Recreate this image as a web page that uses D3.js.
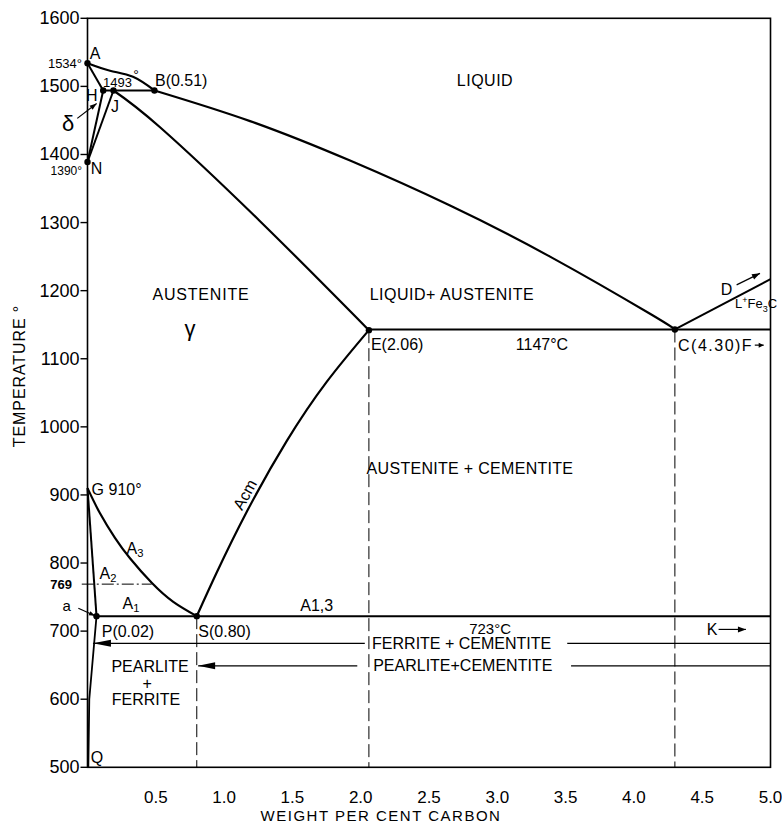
<!DOCTYPE html>
<html><head><meta charset="utf-8">
<script src="https://cdn.jsdelivr.net/npm/d3@7"></script>
<style>
body{margin:0;background:#fff}
text{font-family:"Liberation Sans",Arial,sans-serif;fill:#000}
</style>
</head><body><script>
// ---- data (carbon wt% , temperature °C) ----
const xTicks=[0.5,1.0,1.5,2.0,2.5,3.0,3.5,4.0,4.5,5.0];
const xTickLabels=["0.5","1.0","1.5","2.0","2.5","3.0","3.5","4.0","4.5","5.0"];
const yTicks=[500,600,700,800,900,1000,1100,1200,1300,1400,1500,1600];
const yTickLabels=["500","600","700","800","900","1000","1100","1200","1300","1400","1500","1600"];

const liquidusAB=[[0,1534],[0.165,1523],[0.333,1514],[0.49,1494]];
const peritecticHB=[[0.115,1494],[0.49,1494]];
const deltaAH=[[0,1534],[0.115,1494]];
const deltaHN=[[0.115,1494],[0,1389]];
const gammaJN=[[0.19,1494],[0,1389]];
const solidusJE=[[0.19,1494],[0.531,1440],[1.263,1302],[2.06,1142]];
const liquidusBC=[[0.49,1494],[1.19,1449],[1.922,1391],[2.654,1325],[3.386,1250],[4.118,1166],[4.30,1143]];
const liquidusCD=[[4.30,1143],[5.0,1217]];
const eutecticEF=[[2.06,1143],[5.0,1143]];
const acmSE=[[0.80,722],[0.946,786],[1.165,875],[1.458,979],[1.751,1066],[2.06,1142]];
const a3GS=[[0,910],[0.0915,873],[0.201,837],[0.311,807],[0.47,771],[0.628,743],[0.80,722]];
const solvusGP=[[0,910],[0.066,722]];
const solvusPQ=[[0.066,722],[0.013,600],[0.006,500]];
const eutectoidPK=[[0.066,722],[5.0,722]];
const curie769=[[-0.042,769],[0.47,769]];
const dashedS=[[0.80,722],[0.80,500]];
const dashedE=[[2.06,1142],[2.06,500]];
const dashedC=[[4.30,1143],[4.30,500]];
const ferriteRow=[[[0.04,682],[2.03,682]],[[3.512,682],[5.0,682]]];
const pearliteRow=[[[0.81,649],[1.975,649]],[[3.54,649],[5.0,649]]];
const pointsDots=[[0,1534],[0.115,1494],[0.19,1494],[0.49,1494],[0,1389],[2.06,1142],[4.30,1143],[0.80,722],[0.066,722]];

// ---- scales ----
const W=782,H=825;
const x=d3.scaleLinear().domain([0,5]).range([87.5,770.5]);
const y=d3.scaleLinear().domain([500,1600]).range([767.3,18.3]);

const svg=d3.select("body").append("svg").attr("width",W).attr("height",H);
svg.append("rect").attr("width",W).attr("height",H).attr("fill","#fff");

const lin=d3.line().x(d=>x(d[0])).y(d=>y(d[1]));
const crv=d3.line().x(d=>x(d[0])).y(d=>y(d[1])).curve(d3.curveNatural);

// frame
svg.append("rect").attr("x",x(0)).attr("y",y(1600)).attr("width",x(5)-x(0)).attr("height",y(500)-y(1600))
  .attr("fill","none").attr("stroke","#000").attr("stroke-width",1.6);

// y ticks
const gy=svg.append("g");
yTicks.forEach((t,i)=>{
  gy.append("line").attr("x1",x(0)-7).attr("x2",x(0)).attr("y1",y(t)).attr("y2",y(t)).attr("stroke","#000").attr("stroke-width",1.4);
  gy.append("text").attr("x",x(0)-8).attr("y",y(t)).attr("text-anchor","end").attr("dominant-baseline","central")
    .attr("font-size",18).text(yTickLabels[i]);
});
// x tick labels
xTicks.forEach((t,i)=>{
  svg.append("text").attr("x",x(t)).attr("y",797).attr("text-anchor","middle").attr("dominant-baseline","central")
    .attr("font-size",17).text(xTickLabels[i]);
});
svg.append("text").attr("x",381).attr("y",815).attr("text-anchor","middle").attr("dominant-baseline","central")
  .attr("font-size",15).attr("letter-spacing",1.5).text("WEIGHT PER CENT CARBON");
svg.append("text").attr("transform","translate(19,376) rotate(-90)").attr("text-anchor","middle").attr("dominant-baseline","central")
  .attr("font-size",16).attr("letter-spacing",0.9).text("TEMPERATURE  °");

// thin / dashed lines
[dashedS,dashedE,dashedC].forEach(d=>svg.append("path").attr("d",lin(d)).attr("fill","none").attr("stroke","#000").attr("stroke-width",1).attr("stroke-dasharray","13,5"));
svg.append("path").attr("d",lin(curie769)).attr("fill","none").attr("stroke","#000").attr("stroke-width",1).attr("stroke-dasharray","12,3,2,3");
ferriteRow.concat(pearliteRow).forEach(d=>svg.append("path").attr("d",lin(d)).attr("fill","none").attr("stroke","#000").attr("stroke-width",1.1));

// main boundaries
[liquidusAB,liquidusBC,solidusJE,acmSE,a3GS].forEach(d=>svg.append("path").attr("d",crv(d)).attr("fill","none").attr("stroke","#000").attr("stroke-width",2.2));
[peritecticHB,deltaAH,deltaHN,gammaJN,liquidusCD,eutecticEF,solvusGP,eutectoidPK].forEach(d=>svg.append("path").attr("d",lin(d)).attr("fill","none").attr("stroke","#000").attr("stroke-width",2));
svg.append("path").attr("d",lin(solvusPQ)).attr("fill","none").attr("stroke","#000").attr("stroke-width",1.8);

// dots
pointsDots.forEach(p=>svg.append("circle").attr("cx",x(p[0])).attr("cy",y(p[1])).attr("r",3.2).attr("fill","#000"));

// arrowheads on rows (pointing left)
function headLeft(px,py,len,half){
  svg.append("path").attr("d",`M${px},${py}L${px+len},${py-half}L${px+len},${py+half}Z`).attr("fill","#000");
}
headLeft(x(ferriteRow[0][0][0]),y(682),18,3.5);
headLeft(x(pearliteRow[0][0][0]),y(649),17,3.5);

// small arrows
function arrow(x1,y1,x2,y2,hl,hw){
  svg.append("line").attr("x1",x1).attr("y1",y1).attr("x2",x2).attr("y2",y2).attr("stroke","#000").attr("stroke-width",1.2);
  const a=Math.atan2(y2-y1,x2-x1),c=Math.cos(a),s=Math.sin(a);
  const bx=x2-hl*c,by=y2-hl*s;
  svg.append("path").attr("d",`M${x2},${y2}L${bx-hw*s},${by+hw*c}L${bx+hw*s},${by-hw*c}Z`).attr("fill","#000");
}
arrow(x(-0.075),y(1453),x(0.067),y(1475),7,2.5);   // delta
arrow(x(-0.067),y(733.5),x(0.055),y(722.6),6,2.2); // alpha
arrow(x(4.752),y(1208.5),x(4.923),y(1225.4),8,3);  // D
arrow(x(4.62),y(702.5),x(4.82),y(702.5),8,3);      // K
arrow(x(4.885),y(1120),x(4.95),y(1120),5,2.5);     // F

// labels
function lab(t,cx,cT,opt={}){
  const el=svg.append("text").attr("x",x(cx)).attr("y",y(cT)).attr("dominant-baseline","central")
    .attr("text-anchor",opt.anchor||"middle").attr("font-size",opt.size||16);
  if(opt.ls) el.attr("letter-spacing",opt.ls);
  if(opt.weight) el.attr("font-weight",opt.weight);
  el.text(t); return el;
}
function labSub(main,sub,cx,cT,size){
  const el=svg.append("text").attr("x",x(cx)).attr("y",y(cT)).attr("dominant-baseline","central")
    .attr("text-anchor","middle").attr("font-size",size);
  el.append("tspan").text(main);
  el.append("tspan").attr("font-size",size*0.7).attr("dy",5).text(sub);
}
lab("LIQUID",2.91,1508,{ls:0.5});
lab("AUSTENITE",0.831,1195,{ls:0.8});
lab("γ",0.75,1145,{size:22});
lab("LIQUID+ AUSTENITE",2.668,1195,{ls:0.5});
lab("B(0.51)",0.494,1508,{anchor:"start",size:16});
lab("1493",0.114,1505,{anchor:"start",size:13});
lab("°",0.355,1516,{anchor:"middle",size:14});
lab("A",0.055,1549,{size:16});
lab("H",0.031,1487,{size:16});
lab("J",0.201,1470,{size:16});
lab("N",0.067,1379,{size:16});
lab("1534°",-0.04,1534,{anchor:"end",size:13});
lab("1390°",-0.04,1376,{anchor:"end",size:12});
lab("δ",-0.141,1446,{size:22});
lab("D",4.679,1201,{size:16});
const lf=svg.append("text").attr("x",x(4.74)).attr("y",y(1181.5)).attr("dominant-baseline","central").attr("font-size",13);
lf.append("tspan").text("L");
lf.append("tspan").attr("font-size",9).attr("dy",-3).text("+");
lf.append("tspan").attr("dy",3).text("Fe");
lf.append("tspan").attr("font-size",9).attr("dy",6).text("3");
lf.append("tspan").attr("dy",-6).text("C");
lab("E(2.06)",2.075,1121.6,{anchor:"start"});
lab("1147°C",3.327,1121.6);
lab("C(4.30)F",4.323,1120,{anchor:"start",ls:1.5});
lab("AUSTENITE + CEMENTITE",2.8,939.5,{ls:0.3});
svg.append("text").attr("transform",`translate(${x(1.153)},${y(900.5)}) rotate(-61)`).attr("text-anchor","middle")
  .attr("dominant-baseline","central").attr("font-size",16).text("Acm");
lab("G  910°",0.03,908,{anchor:"start"});
labSub("A","3",0.348,822,16);
labSub("A","2",0.15,786,16);
labSub("A","1",0.318,742,16);
lab("769",-0.113,769,{anchor:"end",size:13,weight:"bold"});
lab("a",-0.152,738,{size:15});
lab("A1,3",1.678,738);
lab("P(0.02)",0.104,699,{anchor:"start"});
lab("S(0.80)",0.811,699,{anchor:"start"});
lab("723°C",2.947,704,{size:15});
lab("K",4.533,702.5,{anchor:"start"});
lab("FERRITE + CEMENTITE",2.739,681.5);
lab("PEARLITE+CEMENTITE",2.747,649);
lab("PEARLITE",0.458,648);
lab("+",0.436,623);
lab("FERRITE",0.428,599);
lab("Q",0.07,515);
</script></body></html>
